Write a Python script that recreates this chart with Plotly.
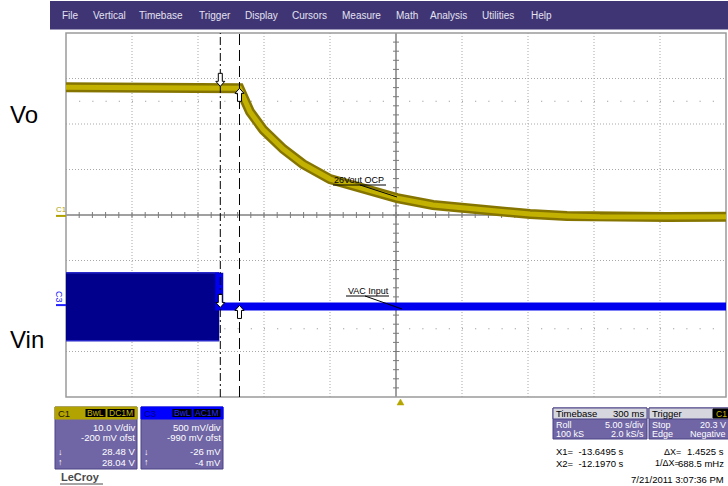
import plotly.graph_objects as go

# ---------------- data ----------------
# C1 : Vo (V) versus time (s)
t_vo = [-25.34, -21.0, -17.0, -13.65, -12.20, -11.40, -10.39, -8.88, -7.39, -5.34,
        -2.54, -0.26, 2.46, 4.74, 7.54, 9.81, 12.61, 15.11, 20.19, 24.66]
v_vo = [28.25, 28.20, 28.30, 28.30, 28.04, 22.9, 18.9, 14.7, 11.4, 8.1,
        5.9, 3.9, 2.4, 1.7, 0.9, 0.4, 0.0, -0.2, -0.25, -0.2]

# C3 : Vin (V) - AC envelope before drop-out, then flat
t_ac = [-25.34, -13.73]
ac_hi = [0.355, 0.355]
ac_lo = [-0.392, -0.392]
t_c3 = [-13.73, 24.66]
v_c3 = [-0.015, -0.015]

# cursors
cursor_t = [-13.6495, -12.1970]
cursor_c1 = [28.48, 28.04]
cursor_c3 = [-0.026, -0.004]
trigger_t = [0.0]

menu_items = ["File", "Vertical", "Timebase", "Trigger", "Display", "Cursors",
              "Measure", "Math", "Analysis", "Utilities", "Help"]

# ---------------- layout helpers ----------------
W, H = 728, 486
L, R, T, B = 66, 726, 33, 397
FONT = "Liberation Sans, Arial, sans-serif"


def PX(x):
    return (x - L) / (R - L)


def PY(y):
    return (B - y) / (B - T)


OLIVE_D = "#857500"
OLIVE = "#c2b100"
PANEL = "#7066a6"
PANEL_EDGE = "#4a4286"

fig = go.Figure()

# C3 AC band
fig.add_trace(go.Scatter(x=t_ac, y=ac_hi, yaxis="y2", mode="lines",
                         line=dict(color="#2828c8", width=1.5), hoverinfo="skip"))
fig.add_trace(go.Scatter(x=t_ac, y=ac_lo, yaxis="y2", mode="lines", fill="tonexty",
                         fillcolor="#00008c", line=dict(color="#2828c8", width=1.5),
                         hoverinfo="skip"))
# C3 flat after drop-out
fig.add_trace(go.Scatter(x=[t_ac[-1]] + t_c3, y=[ac_hi[-1]] + v_c3, yaxis="y2", mode="lines",
                         line=dict(color="#0000ee", width=8), hoverinfo="skip"))
# C1 Vo band (dark edge + bright core)
fig.add_trace(go.Scatter(x=t_vo, y=v_vo, mode="lines",
                         line=dict(color=OLIVE_D, width=10), hoverinfo="skip"))
fig.add_trace(go.Scatter(x=t_vo, y=v_vo, mode="lines",
                         line=dict(color=OLIVE, width=5), hoverinfo="skip"))

shapes = []
ann = []

# ---- grid ----
for i in range(1, 10):
    if i == 5:
        continue
    shapes.append(dict(type="line", xref="paper", yref="paper", x0=i / 10, x1=i / 10, y0=0, y1=1,
                       line=dict(color="#a8a8a8", width=1, dash="1px,2px"), layer="below"))
for j in range(1, 8):
    if j == 4:
        continue
    shapes.append(dict(type="line", xref="paper", yref="paper", x0=0, x1=1, y0=j / 8, y1=j / 8,
                       line=dict(color="#a8a8a8", width=1, dash="1px,2px"), layer="below"))
# sparse dot rows
for yy in (1.5 / 8, 6.5 / 8):
    shapes.append(dict(type="line", xref="paper", yref="paper", x0=PX(L + 13.2), x1=1, y0=yy, y1=yy,
                       line=dict(color="#8c8c8c", width=1, dash="1px,12.2px"), layer="below"))
# centre lines
shapes.append(dict(type="line", xref="paper", yref="paper", x0=0.5, x1=0.5, y0=0, y1=1,
                   line=dict(color="#a0a0a0", width=2), layer="below"))
shapes.append(dict(type="line", xref="paper", yref="paper", x0=0, x1=1, y0=0.5, y1=0.5,
                   line=dict(color="#a0a0a0", width=2), layer="below"))
for k in range(1, 40):
    shapes.append(dict(type="line", xref="paper", yref="paper", x0=0.5 - 3 / 660, x1=0.5 + 3 / 660,
                       y0=k / 40, y1=k / 40, line=dict(color="#7a7a7a", width=1), layer="below"))
for k in range(1, 50):
    shapes.append(dict(type="line", xref="paper", yref="paper", x0=k / 50, x1=k / 50,
                       y0=0.5 - 3 / 364, y1=0.5 + 3 / 364, line=dict(color="#7a7a7a", width=1),
                       layer="below"))
# border
shapes.append(dict(type="rect", xref="paper", yref="paper", x0=0, x1=1, y0=0, y1=1,
                   line=dict(color="#9a9a9a", width=1.5), layer="below"))

# ---- cursors ----
shapes.append(dict(type="line", xref="x", yref="paper", x0=cursor_t[0], x1=cursor_t[0], y0=0, y1=1,
                   line=dict(color="black", width=1, dash="8px,3px,2px,3px")))
shapes.append(dict(type="line", xref="x", yref="paper", x0=cursor_t[1], x1=cursor_t[1], y0=0, y1=1,
                   line=dict(color="black", width=1, dash="11px,5px")))

DOWN = "M0,0 L-4.5,5 L-2,5 L-2,13 L2,13 L2,5 L4.5,5 Z"
UP = "M0,0 L-4.5,-5 L-2,-5 L-2,-13 L2,-13 L2,-5 L4.5,-5 Z"
for xv, yv, yr, p in [(cursor_t[0], cursor_c1[0], "y", DOWN), (cursor_t[1], cursor_c1[1], "y", UP),
                      (cursor_t[0], cursor_c3[0], "y2", DOWN), (cursor_t[1], cursor_c3[1], "y2", UP)]:
    shapes.append(dict(type="path", xref="x", yref=yr, xsizemode="pixel", ysizemode="pixel",
                       xanchor=xv, yanchor=yv, path=p, fillcolor="white",
                       line=dict(color="black", width=1)))

# trigger marker
shapes.append(dict(type="path", xref="x", yref="paper", xsizemode="pixel", ysizemode="pixel",
                   xanchor=trigger_t[0], yanchor=0, path="M0,-2 L3.5,-8 L-3.5,-8 Z",
                   fillcolor="#b5a500", line=dict(color="#b5a500", width=0.5)))

# channel ground markers
shapes.append(dict(type="line", xref="paper", yref="y", x0=PX(56), x1=0, y0=0, y1=0,
                   line=dict(color="#b0a000", width=2)))
shapes.append(dict(type="line", xref="paper", yref="y2", x0=PX(56), x1=0, y0=0, y1=0,
                   line=dict(color="#2020ff", width=2)))
ann.append(dict(xref="paper", yref="y", x=PX(61), y=0, yshift=6, yanchor="middle", xanchor="center",
                text="C1", showarrow=False, font=dict(family=FONT, size=8, color="#b0a000")))
ann.append(dict(xref="paper", yref="y2", x=PX(59), y=0, yshift=8, yanchor="middle", xanchor="center",
                text="C3", textangle=90, showarrow=False,
                font=dict(family=FONT, size=9, color="#2020ff")))

# trace labels with underline and leader
ann.append(dict(xref="paper", yref="paper", x=PX(359), y=PY(180), xanchor="center", yanchor="middle",
                text="26Vout OCP", showarrow=False, font=dict(family=FONT, size=9, color="black")))
shapes.append(dict(type="line", xref="paper", yref="paper", x0=PX(333), x1=PX(386), y0=PY(185),
                   y1=PY(185), line=dict(color="black", width=1)))
shapes.append(dict(type="line", xref="paper", yref="paper", x0=PX(360), x1=PX(397), y0=PY(185),
                   y1=PY(197), line=dict(color="black", width=1)))
ann.append(dict(xref="paper", yref="paper", x=PX(368), y=PY(291), xanchor="center", yanchor="middle",
                text="VAC Input", showarrow=False, font=dict(family=FONT, size=9, color="black")))
shapes.append(dict(type="line", xref="paper", yref="paper", x0=PX(346), x1=PX(389), y0=PY(296),
                   y1=PY(296), line=dict(color="black", width=1)))
shapes.append(dict(type="line", xref="paper", yref="paper", x0=PX(365), x1=PX(402), y0=PY(296),
                   y1=PY(309), line=dict(color="black", width=1)))

# big side labels
ann.append(dict(xref="paper", yref="paper", x=PX(8), y=PY(114), xanchor="left", yanchor="middle",
                text="Vo", showarrow=False, font=dict(family=FONT, size=24, color="black")))
ann.append(dict(xref="paper", yref="paper", x=PX(8), y=PY(339), xanchor="left", yanchor="middle",
                text="Vin", showarrow=False, font=dict(family=FONT, size=24, color="black")))

# ---- menu bar ----
shapes.append(dict(type="rect", xref="paper", yref="paper", x0=PX(50), x1=PX(730), y0=PY(1),
                   y1=PY(29.5), fillcolor="#3f3574", line=dict(width=0)))
menu_x = [60, 91, 137, 197, 243, 290, 340, 394, 428, 480, 529]
for name, mx in zip(menu_items, menu_x):
    ann.append(dict(xref="paper", yref="paper", x=PX(mx), y=PY(16), xanchor="left", yanchor="middle",
                    text=name, showarrow=False,
                    font=dict(family=FONT, size=10, color="#e4e2f2")))


def txt(x, y, s, anchor="left", color="white", size=9.5, bold=False):
    if bold:
        s = "<b>" + s + "</b>"
    ann.append(dict(xref="paper", yref="paper", x=PX(x), y=PY(y), xanchor=anchor, yanchor="middle",
                    text=s, showarrow=False, borderpad=0,
                    font=dict(family=FONT, size=size, color=color)))


def box(x0, x1, y0, y1, fill, line=PANEL_EDGE, lw=1):
    shapes.append(dict(type="rect", xref="paper", yref="paper", x0=PX(x0), x1=PX(x1), y0=PY(y0),
                       y1=PY(y1), fillcolor=fill, line=dict(color=line, width=lw)))


# C1 panel
box(55, 137, 407, 469, PANEL)
box(55, 137, 407, 419, "#b3a300", line="#b3a300")
txt(57, 413, "C1", color="#1a1800")
box(85, 106, 408.5, 417.5, "black", line="#b3a300")
txt(95.5, 413, "BwL", anchor="center", color="#c8b800", size=8.5)
box(107, 135, 408.5, 417.5, "black", line="#b3a300")
txt(121, 413, "DC1M", anchor="center", color="#c8b800", size=8.5)
txt(136, 427, "10.0 V/div", anchor="right")
txt(136, 437, "-200 mV ofst", anchor="right")
txt(57, 452, "↓", size=9)
txt(136, 452, "28.48 V", anchor="right")
txt(57, 462, "↑", size=9)
txt(136, 462, "28.04 V", anchor="right")

# C3 panel
box(141, 223, 407, 469, PANEL)
box(141, 223, 407, 419, "#0000ff", line="#0000ff")
txt(143, 413, "C3", color="#000080")
box(172, 192, 408.5, 417.5, "black", line="#0000ff")
txt(182, 413, "BwL", anchor="center", color="#2a2aff", size=8.5)
box(193, 221, 408.5, 417.5, "black", line="#0000ff")
txt(207, 413, "AC1M", anchor="center", color="#2a2aff", size=8.5)
txt(222, 427, "500 mV/div", anchor="right")
txt(222, 437, "-990 mV ofst", anchor="right")
txt(143, 452, "↓", size=9)
txt(222, 452, "-26 mV", anchor="right")
txt(143, 462, "↑", size=9)
txt(222, 462, "-4 mV", anchor="right")

txt(60, 477, "LeCroy", color="#4a4a4a", size=11, bold=True)
shapes.append(dict(type="line", xref="paper", yref="paper", x0=PX(60), x1=PX(103), y0=PY(484),
                   y1=PY(484), line=dict(color="#4a4a4a", width=1)))

# Timebase panel
box(553, 647, 408, 439, PANEL)
box(553, 647, 408, 419, "#d6d6de", line=PANEL_EDGE)
txt(555, 413.5, "Timebase", color="black")
txt(645, 413.5, "300 ms", anchor="right", color="black")
txt(555, 424.5, "Roll", size=9)
txt(645, 424.5, "5.00 s/div", anchor="right", size=9)
txt(555, 434, "100 kS", size=9)
txt(645, 434, "2.0 kS/s", anchor="right", size=9)

# Trigger panel
box(649, 740, 408, 439, PANEL)
box(649, 740, 408, 419, "#d6d6de", line=PANEL_EDGE)
txt(651, 413.5, "Trigger", color="black")
box(713, 740, 409, 418, "black", line="black")
txt(715, 413.5, "C1", color="#c8b800", size=8.5)
txt(651, 424.5, "Stop", size=9)
txt(727, 424.5, "20.3 V", anchor="right", size=9)
txt(651, 434, "Edge", size=9)
txt(727, 434, "Negative", anchor="right", size=9)

# cursor readout
txt(555, 452, "X1=  -13.6495 s", color="black")
txt(663, 452, "ΔX=", color="black", size=9)
txt(725, 452, "1.4525 s", anchor="right", color="black")
txt(555, 463, "X2=  -12.1970 s", color="black")
txt(654, 463, "1/ΔX=", color="black", size=9)
txt(725, 463, "688.5 mHz", anchor="right", color="black")
txt(725, 479, "7/21/2011 3:07:36 PM", anchor="right", color="black")

fig.update_layout(
    width=W, height=H,
    margin=dict(l=L, r=W - R, t=T, b=H - B, pad=0),
    paper_bgcolor="white", plot_bgcolor="white",
    showlegend=False,
    xaxis=dict(range=[-25.34, 24.66], showgrid=False, zeroline=False, showticklabels=False,
               showline=False, ticks=""),
    yaxis=dict(range=[-39.8, 40.2], showgrid=False, zeroline=False, showticklabels=False,
               showline=False, ticks=""),
    yaxis2=dict(range=[-1.01, 2.99], overlaying="y", showgrid=False, zeroline=False,
                showticklabels=False, showline=False, ticks=""),
    shapes=shapes,
    annotations=ann,
)

fig.write_html("out.html", config={"displayModeBar": False},
               post_script="document.body.style.margin='0px';document.body.style.overflow='hidden';")
